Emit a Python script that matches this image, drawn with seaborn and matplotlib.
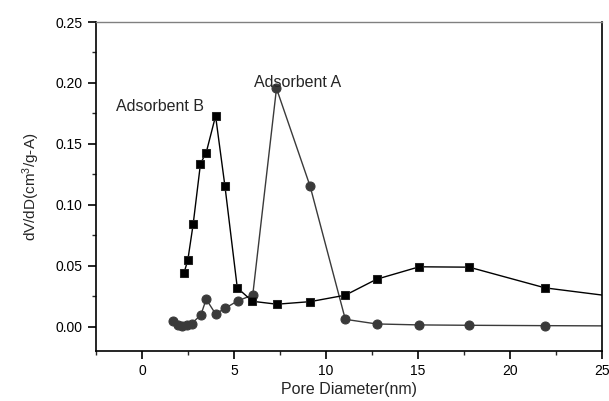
import numpy as np
import pandas as pd
import matplotlib
matplotlib.use('Agg')
import matplotlib.pyplot as plt
from matplotlib.ticker import MultipleLocator, FormatStrFormatter
import seaborn as sns

sns.set_style('ticks')
plt.rcParams['font.family'] = ['Liberation Sans', 'DejaVu Sans']
plt.rcParams['mathtext.default'] = 'regular'

# Adsorbent B (squares)
b_diam = [2.29, 2.49, 2.78, 3.18, 3.49, 4.0, 4.51, 5.18, 6.0, 7.33, 9.14, 11.05, 12.75, 15.07, 17.78, 21.91, 27.0]
b_dvdd = [0.0444, 0.0545, 0.0839, 0.1338, 0.1428, 0.1729, 0.1151, 0.0318, 0.0208, 0.0184, 0.0205, 0.0258, 0.0389, 0.0491, 0.0488, 0.0318, 0.0221]

# Adsorbent A (circles)
a_diam = [1.69, 1.95, 2.2, 2.45, 2.7, 3.2, 3.49, 4.0, 4.51, 5.2, 6.02, 7.31, 9.14, 11.05, 12.75, 15.07, 17.78, 21.91, 27.0]
a_dvdd = [0.0047, 0.0015, 0.0005, 0.001, 0.0025, 0.0096, 0.0225, 0.0104, 0.015, 0.0211, 0.026, 0.1955, 0.1151, 0.006, 0.0022, 0.0014, 0.0011, 0.0008, 0.0005]

df_a = pd.DataFrame({'d': a_diam, 'v': a_dvdd})
df_b = pd.DataFrame({'d': b_diam, 'v': b_dvdd})

fig = plt.figure(figsize=(6.09, 4.01), dpi=100)
ax = fig.add_axes([0.1576, 0.1247, 0.8309, 0.8204])

gray = '#3a3a3a'
sns.lineplot(data=df_a, x='d', y='v', ax=ax, color=gray, lw=1.0, marker='o', ms=6.5,
             mec=gray, mfc=gray, sort=False, estimator=None)
sns.lineplot(data=df_b, x='d', y='v', ax=ax, color='black', lw=1.0, marker='s', ms=6,
             mec='#222222', mfc='black', sort=False, estimator=None)

ax.set_xlim(-2.5, 25)
ax.set_ylim(-0.02, 0.25)
ax.xaxis.set_major_locator(MultipleLocator(5))
ax.xaxis.set_minor_locator(MultipleLocator(2.5))
ax.yaxis.set_major_locator(MultipleLocator(0.05))
ax.yaxis.set_minor_locator(MultipleLocator(0.025))
ax.yaxis.set_major_formatter(FormatStrFormatter('%.2f'))
ax.tick_params(which='major', direction='out', length=6, width=1.2, labelsize=10, colors='black')
ax.tick_params(which='minor', direction='out', length=3, width=1.0)
for s in ax.spines.values():
    s.set_linewidth(1.2)
    s.set_color('black')
ax.spines['top'].set_color('#808080')
ax.spines['top'].set_linewidth(1.0)

ax.set_xlabel('Pore Diameter(nm)', fontsize=11.5, labelpad=3)
ax.set_ylabel('dV/dD(cm$^3$/g-A)', fontsize=11, labelpad=10)

ax.text(-1.4, 0.177, 'Adsorbent B', fontsize=11.5)
ax.text(6.1, 0.1966, 'Adsorbent A', fontsize=11.5)

fig.savefig('out.png', dpi=100)
